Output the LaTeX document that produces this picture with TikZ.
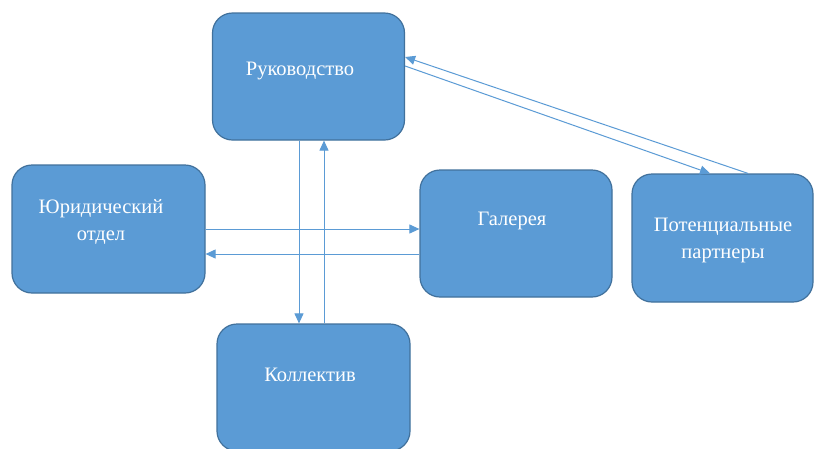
\documentclass[tikz,border=0pt]{standalone}
\usepackage{fontspec}
\setmainfont{Liberation Serif}
\newfontfamily\boxfont{Liberation Serif}
\usetikzlibrary{arrows.meta}
\definecolor{boxfill}{HTML}{5B9BD5}
\definecolor{boxedge}{HTML}{41719C}
\definecolor{arrcol}{HTML}{5B9BD5}
\begin{document}
\begin{tikzpicture}[x=1pt,y=-1pt,
  box/.style={draw=boxedge,fill=boxfill,line width=1.2pt,rounded corners=20pt,inner sep=0pt},
  lbl/.style={text=white,font=\boxfont\fontsize{20.5}{27}\selectfont,align=center,inner sep=0pt},
  arr/.style={draw=arrcol,line width=1pt,-{Triangle[length=10pt,width=9pt]}}]
\useasboundingbox (0,0) rectangle (814,448);
\fill[white] (0,0) rectangle (814,448);
\node[box,minimum width=192pt,minimum height=127pt] (ruk) at (308.5,76.5) {};
\node[box,minimum width=193pt,minimum height=128pt] (jur) at (108.5,229) {};
\node[box,minimum width=192pt,minimum height=127pt] (gal) at (516,233.5) {};
\node[box,minimum width=181pt,minimum height=128pt] (par) at (722.5,238) {};
\node[box,minimum width=193pt,minimum height=127pt] (kol) at (313.5,387.5) {};
\node[lbl] (ruk-t) at (300,71) {Руководство};
\node[lbl] (jur-t) at (101,221.5) {Юридический\\отдел};
\node[lbl] (gal-t) at (512,221) {Галерея};
\node[lbl] (par-t) at (723,240) {Потенциальные\\партнеры};
\node[lbl] (kol-t) at (310,375) {Коллектив};
% vertical
\draw[arr] (ruk.south -| 299,0) -- (kol.north -| 299,0);
\draw[arr] (kol.north -| 324,0) -- (ruk.south -| 324,0);
% horizontal
\draw[arr] (jur.east |- 0,229) -- (gal.west |- 0,229);
\draw[arr] (gal.west |- 0,254) -- (jur.east |- 0,254);
% diagonal
\draw[arr] (ruk.east |- 0,66) -- (par.north -| 710,0);
\draw[arr] (par.north -| 748,0) -- (ruk.east |- 0,57);
\end{tikzpicture}
\end{document}
